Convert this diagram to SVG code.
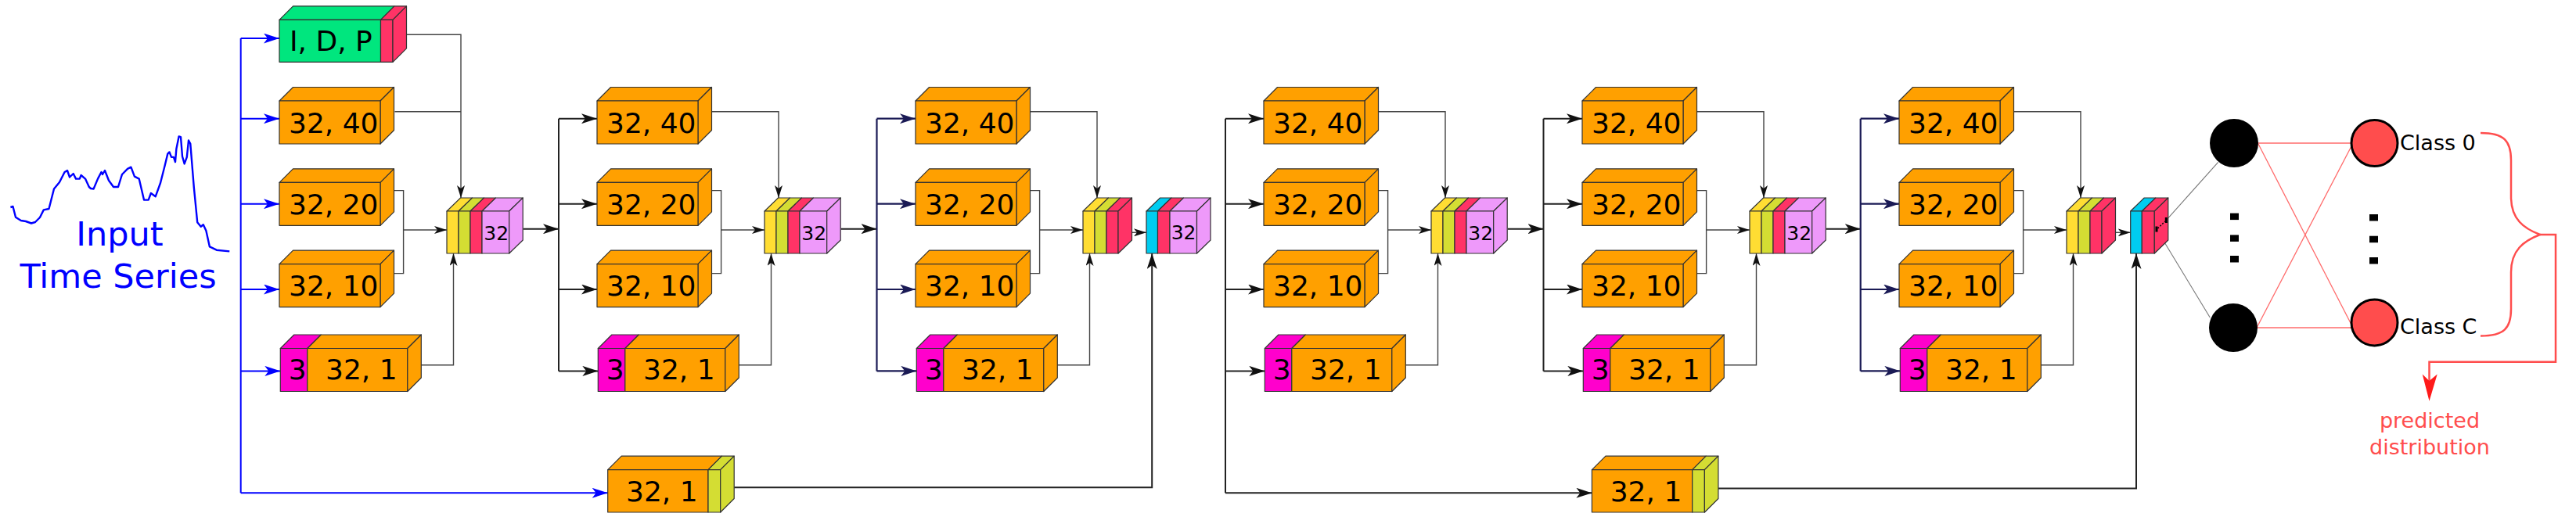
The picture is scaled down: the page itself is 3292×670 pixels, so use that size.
<svg xmlns="http://www.w3.org/2000/svg" width="3292" height="670" viewBox="0 0 3292 670">
<style>
.f polygon,.f rect{stroke:#333;stroke-width:1.2;stroke-linejoin:round}
.or{fill:#ffa000}.gr{fill:#00e67e}.rd{fill:#ff3366}.mg{fill:#ff00cc}
.ye{fill:#ffdd33}.yg{fill:#d4dd33}.pk{fill:#ee99fa}.cy{fill:#00ccf0}
.t{font-family:"DejaVu Sans",sans-serif;font-size:36px;fill:#000}
.ts{font-family:"DejaVu Sans",sans-serif;font-size:25px;fill:#000}
.sp{fill:none;stroke:#222;stroke-width:2}
.nv{fill:none;stroke:#1a1a55;stroke-width:2.2}
.bl{fill:none;stroke:#0000ff;stroke-width:2}
.cn{fill:none;stroke:#444;stroke-width:1.4}
.rl{fill:none;stroke:#ff6b6b;stroke-width:1.3}
.gl{fill:none;stroke:#777;stroke-width:1.1}
.lbl{font-family:"DejaVu Sans",sans-serif;font-size:27px}
</style>
<defs>
<marker id="ab" viewBox="0 0 20 13" refX="20" refY="6.5" markerWidth="20" markerHeight="13" markerUnits="userSpaceOnUse" orient="auto"><path d="M0,0 L20,6.5 L0,13 L5,6.5 z" fill="#111"/></marker>
<marker id="an" viewBox="0 0 20 13" refX="20" refY="6.5" markerWidth="20" markerHeight="13" markerUnits="userSpaceOnUse" orient="auto"><path d="M0,0 L20,6.5 L0,13 L5,6.5 z" fill="#1a1a55"/></marker>
<marker id="abl" viewBox="0 0 20 13" refX="20" refY="6.5" markerWidth="20" markerHeight="13" markerUnits="userSpaceOnUse" orient="auto"><path d="M0,0 L20,6.5 L0,13 L5,6.5 z" fill="#0000ff"/></marker>
<marker id="as" viewBox="0 0 16 10" refX="16" refY="5" markerWidth="16" markerHeight="10" markerUnits="userSpaceOnUse" orient="auto"><path d="M0,0 L16,5 L0,10 L4,5 z" fill="#111"/></marker>
<g id="box" class="f">
<polygon class="or" points="0,0 17.5,-17.5 146.5,-17.5 129,0"/>
<polygon class="or" points="129,0 146.5,-17.5 146.5,37.5 129,55"/>
<rect class="or" width="129" height="55"/>
</g>
<g id="box1" class="f">
<polygon class="mg" points="0,0 17.5,-17.5 52,-17.5 34.5,0"/>
<rect class="mg" width="34.5" height="55"/>
<polygon class="or" points="34.5,0 52,-17.5 180,-17.5 162.5,0"/>
<rect class="or" x="34.5" width="128" height="55"/>
<polygon class="or" points="162.5,0 180,-17.5 180,37.5 162.5,55"/>
</g>
<g id="idpbox" class="f">
<polygon class="gr" points="0,0 17.5,-17.5 147,-17.5 129.5,0"/>
<rect class="gr" width="129.5" height="54"/>
<polygon class="rd" points="129.5,0 147,-17.5 162.5,-17.5 145,0"/>
<rect class="rd" x="129.5" width="15.5" height="54"/>
<polygon class="rd" points="145,0 162.5,-17.5 162.5,36.5 145,54"/>
</g>
<g id="catA" class="f">
<polygon class="ye" points="0,0 17.5,-17 32.5,-17 15,0"/>
<rect class="ye" width="15" height="54"/>
<polygon class="yg" points="15,0 32.5,-17 47.5,-17 30,0"/>
<rect class="yg" x="15" width="15" height="54"/>
<polygon class="rd" points="30,0 47.5,-17 62.5,-17 45,0"/>
<rect class="rd" x="30" width="15" height="54"/>
<polygon class="pk" points="45,0 62.5,-17 97.2,-17 79.7,0"/>
<rect class="pk" x="45" width="34.7" height="54"/>
<polygon class="pk" points="79.7,0 97.2,-17 97.2,37 79.7,54"/>
</g>
<g id="catB" class="f">
<polygon class="ye" points="0,0 17.5,-17 32.5,-17 15,0"/>
<rect class="ye" width="15" height="54"/>
<polygon class="yg" points="15,0 32.5,-17 47.5,-17 30,0"/>
<rect class="yg" x="15" width="15" height="54"/>
<polygon class="rd" points="30,0 47.5,-17 62.5,-17 45,0"/>
<rect class="rd" x="30" width="15" height="54"/>
<polygon class="rd" points="45,0 62.5,-17 62.5,37 45,54"/>
</g>
<g id="resA" class="f">
<polygon class="cy" points="0,0 17.5,-17 32,-17 14.5,0"/>
<rect class="cy" width="14.5" height="54"/>
<polygon class="rd" points="14.5,0 32,-17 47.5,-17 30,0"/>
<rect class="rd" x="14.5" width="15.5" height="54"/>
<polygon class="pk" points="30,0 47.5,-17 82,-17 64.5,0"/>
<rect class="pk" x="30" width="34.5" height="54"/>
<polygon class="pk" points="64.5,0 82,-17 82,37 64.5,54"/>
</g>
<g id="resB" class="f">
<polygon class="cy" points="0,0 17.5,-17 32.1,-17 14.6,0"/>
<rect class="cy" width="14.6" height="54"/>
<polygon class="rd" points="14.6,0 32.1,-17 48.1,-17 30.6,0"/>
<rect class="rd" x="14.6" width="16" height="54"/>
<polygon class="rd" points="30.6,0 48.1,-17 48.1,37 30.6,54"/>
</g>
<g id="short" class="f">
<polygon class="or" points="0,0 17.5,-17.5 145.8,-17.5 128.3,0"/>
<rect class="or" width="128.3" height="54.3"/>
<polygon class="yg" points="128.3,0 145.8,-17.5 161.5,-17.5 144,0"/>
<rect class="yg" x="128.3" width="15.7" height="54.3"/>
<polygon class="yg" points="144,0 161.5,-17.5 161.5,36.8 144,54.3"/>
</g>
</defs>
<rect width="3292" height="670" fill="#fff"/>

<g id="input">
<polyline fill="none" stroke="#0000ff" stroke-width="2.4" stroke-linejoin="round" points="13.4,265 16.5,264 20,277.8 26.8,282 33,283 40,285.5 45,284 51,278 55.8,268.4 62.5,267 69,241.5 76,233 82.6,220 86,218 89,226.5 93.7,222 97,228.6 101.8,228.6 103.6,224 109,228.6 113.8,239 116,241 119.6,241.5 125,228.6 129.5,220 131,223 134,218 139,230.8 145,239 151,239 156,223 163,215.8 167.4,213.7 171.9,225.6 177.7,228.6 184,255.6 189.7,255.6 192.9,247 198.7,251.3 205,234 210.7,211.5 214.3,196.6 216.5,194.4 219,200.9 221.9,200.9 224,207 225.4,190.2 228.6,174.4 231,175.2 233,200 235.7,209.4 238.8,200.9 241,179.5 243.3,183.8 247.8,239.3 252.2,284.2 256.7,289.7 259.8,287.2 263.4,294.9 267.9,315.4 276.8,319.7 293.3,321.4"/>
<text x="153" y="314" text-anchor="middle" font-family="DejaVu Sans, sans-serif" font-size="43" fill="#0000ff">Input</text>
<text x="151" y="368.4" text-anchor="middle" font-family="DejaVu Sans, sans-serif" font-size="43" fill="#0000ff">Time Series</text>
</g>

<g id="connectors">
<!-- input spine -->
<path class="bl" d="M307.7,49.1 V630.3"/>
<path class="bl" d="M307.7,49.1 H357" marker-end="url(#abl)"/>
<path class="bl" d="M307.7,151.7 H357" marker-end="url(#abl)"/>
<path class="bl" d="M307.7,260.7 H357" marker-end="url(#abl)"/>
<path class="bl" d="M307.7,370 H357" marker-end="url(#abl)"/>
<path class="bl" d="M307.7,474.4 H358.3" marker-end="url(#abl)"/>
<path class="bl" d="M307.7,630.3 H776.7" marker-end="url(#abl)"/>
<!-- block 1 -->
<path class="cn" d="M504.3,44.3 H589 V253" marker-end="url(#as)"/>
<path class="cn" d="M504.5,142.7 H589"/>
<path class="cn" d="M503.5,243.6 H515.6 V349.6 H503.5"/>
<path class="cn" d="M515.6,294 H571" marker-end="url(#as)"/>
<path class="cn" d="M525,466.7 H579.5 V324" marker-end="url(#as)"/>
<path class="sp" d="M668.7,292.7 H714" marker-end="url(#ab)"/>
<!-- block 2 -->
<path class="sp" d="M714,151.7 V474.4"/>
<path class="sp" d="M714,151.7 H763" marker-end="url(#ab)"/>
<path class="sp" d="M714,260.7 H763" marker-end="url(#ab)"/>
<path class="sp" d="M714,370 H763" marker-end="url(#ab)"/>
<path class="sp" d="M714,474.4 H764.3" marker-end="url(#ab)"/>
<path class="cn" d="M910,142.7 H995 V253" marker-end="url(#as)"/>
<path class="cn" d="M909.5,243.6 H921.6 V349.6 H909.5"/>
<path class="cn" d="M921.6,294 H977" marker-end="url(#as)"/>
<path class="cn" d="M931,466.7 H985.5 V324" marker-end="url(#as)"/>
<path class="sp" d="M1074.7,292.7 H1120.5" marker-end="url(#ab)"/>
<!-- block 3 -->
<path class="nv" d="M1120.5,151.7 V474.4"/>
<path class="nv" d="M1120.5,151.7 H1170" marker-end="url(#an)"/>
<path class="nv" d="M1120.5,260.7 H1170" marker-end="url(#an)"/>
<path class="nv" d="M1120.5,370 H1170" marker-end="url(#an)"/>
<path class="nv" d="M1120.5,474.4 H1171.3" marker-end="url(#an)"/>
<path class="cn" d="M1317,142.7 H1402 V253" marker-end="url(#as)"/>
<path class="cn" d="M1316.5,243.6 H1328.6 V349.6 H1316.5"/>
<path class="cn" d="M1328.6,294 H1384" marker-end="url(#as)"/>
<path class="cn" d="M1338,466.7 H1392.5 V324" marker-end="url(#as)"/>
<path class="cn" d="M1446,297.3 H1465" marker-end="url(#as)"/>
<path class="sp" d="M938.3,623.3 H1472.2 V324" marker-end="url(#ab)"/>
<!-- block 4 -->
<path class="sp" d="M1566,151.7 V630.3"/>
<path class="sp" d="M1566,151.7 H1615" marker-end="url(#ab)"/>
<path class="sp" d="M1566,260.7 H1615" marker-end="url(#ab)"/>
<path class="sp" d="M1566,370 H1615" marker-end="url(#ab)"/>
<path class="sp" d="M1566,474.4 H1616.3" marker-end="url(#ab)"/>
<path class="sp" d="M1566,630.3 H2034.4" marker-end="url(#ab)"/>
<path class="cn" d="M1762,142.7 H1847 V253" marker-end="url(#as)"/>
<path class="cn" d="M1761.5,243.6 H1773.6 V349.6 H1761.5"/>
<path class="cn" d="M1773.6,294 H1829" marker-end="url(#as)"/>
<path class="cn" d="M1783,466.7 H1837.5 V324" marker-end="url(#as)"/>
<path class="sp" d="M1926.7,292.7 H1972.5" marker-end="url(#ab)"/>
<!-- block 5 -->
<path class="sp" d="M1972.5,151.7 V474.4"/>
<path class="sp" d="M1972.5,151.7 H2022" marker-end="url(#ab)"/>
<path class="sp" d="M1972.5,260.7 H2022" marker-end="url(#ab)"/>
<path class="sp" d="M1972.5,370 H2022" marker-end="url(#ab)"/>
<path class="sp" d="M1972.5,474.4 H2023.3" marker-end="url(#ab)"/>
<path class="cn" d="M2169,142.7 H2254 V253" marker-end="url(#as)"/>
<path class="cn" d="M2168.5,243.6 H2180.6 V349.6 H2168.5"/>
<path class="cn" d="M2180.6,294 H2236" marker-end="url(#as)"/>
<path class="cn" d="M2190,466.7 H2244.5 V324" marker-end="url(#as)"/>
<path class="sp" d="M2333.7,292.7 H2377.7" marker-end="url(#ab)"/>
<!-- block 6 -->
<path class="nv" d="M2377.7,151.7 V474.4"/>
<path class="nv" d="M2377.7,151.7 H2427" marker-end="url(#an)"/>
<path class="nv" d="M2377.7,260.7 H2427" marker-end="url(#an)"/>
<path class="nv" d="M2377.7,370 H2427" marker-end="url(#an)"/>
<path class="nv" d="M2377.7,474.4 H2428.3" marker-end="url(#an)"/>
<path class="cn" d="M2574,142.7 H2659 V253" marker-end="url(#as)"/>
<path class="cn" d="M2573.5,243.6 H2585.6 V349.6 H2573.5"/>
<path class="cn" d="M2585.6,294 H2641" marker-end="url(#as)"/>
<path class="cn" d="M2595,466.7 H2649.5 V324" marker-end="url(#as)"/>
<path class="cn" d="M2703.5,297.3 H2722.7" marker-end="url(#as)"/>
<path class="sp" d="M2196,624.4 H2730 V324" marker-end="url(#ab)"/>
<!-- dense layers -->
<path class="gl" d="M2768.3,281.7 L2834.7,207.3"/>
<path class="gl" d="M2756,293.3 L2824.3,406"/>
<path class="rl" d="M2886,183 H3005"/>
<path class="rl" d="M2886,184 L3006,417"/>
<path class="rl" d="M2884,419 L3006,185"/>
<path class="rl" d="M2884,419 H3006"/>
<path fill="none" stroke="#ff4d4d" stroke-width="2.5" d="M3170,170 C3200,170 3209,180 3209,205 L3209,252 C3209,280 3225,292 3246,300 C3225,308 3209,320 3209,348 L3209,395 C3209,420 3200,429.5 3170,429.5"/>
<path fill="none" stroke="#ff4d4d" stroke-width="2.5" d="M3246,300 H3266 V462.8 H3104.5 V492"/>
<polygon fill="#ff1a1a" points="3104.5,512.8 3095.7,478.6 3104.5,487 3114.7,478.6"/>
</g>

<!-- block 1 nodes -->
<g id="b1_idp"><use href="#idpbox" x="357" y="25.3"/><text class="t" x="370" y="65">I, D, P</text></g>
<g id="b1_40"><use href="#box" x="357" y="129"/><text class="t" x="369" y="169.7">32, 40</text></g>
<g id="b1_20"><use href="#box" x="357" y="233.3"/><text class="t" x="369" y="273.8">32, 20</text></g>
<g id="b1_10"><use href="#box" x="357" y="337.6"/><text class="t" x="369" y="378.1">32, 10</text></g>
<g id="b1_1"><use href="#box1" x="358.3" y="445.5"/><text class="t" x="368.8" y="485">3</text><text class="t" x="416" y="485">32, 1</text></g>
<g id="b1_cat"><use href="#catA" x="571" y="270"/><text class="ts" x="618.3" y="306.5">32</text></g>
<!-- block 2 -->
<g id="b2_40"><use href="#box" x="763" y="129"/><text class="t" x="775" y="169.7">32, 40</text></g>
<g id="b2_20"><use href="#box" x="763" y="233.3"/><text class="t" x="775" y="273.8">32, 20</text></g>
<g id="b2_10"><use href="#box" x="763" y="337.6"/><text class="t" x="775" y="378.1">32, 10</text></g>
<g id="b2_1"><use href="#box1" x="764.3" y="445.5"/><text class="t" x="774.8" y="485">3</text><text class="t" x="822" y="485">32, 1</text></g>
<g id="b2_cat"><use href="#catA" x="977" y="270"/><text class="ts" x="1024.3" y="306.5">32</text></g>
<!-- block 3 -->
<g id="b3_40"><use href="#box" x="1170" y="129"/><text class="t" x="1182" y="169.7">32, 40</text></g>
<g id="b3_20"><use href="#box" x="1170" y="233.3"/><text class="t" x="1182" y="273.8">32, 20</text></g>
<g id="b3_10"><use href="#box" x="1170" y="337.6"/><text class="t" x="1182" y="378.1">32, 10</text></g>
<g id="b3_1"><use href="#box1" x="1171.3" y="445.5"/><text class="t" x="1181.8" y="485">3</text><text class="t" x="1229" y="485">32, 1</text></g>
<g id="b3_cat"><use href="#catB" x="1384" y="270"/></g>
<g id="res1"><use href="#resA" x="1465" y="270"/><text class="ts" x="1496.7" y="306">32</text></g>
<g id="short1"><use href="#short" x="776.7" y="600.7"/><text class="t" x="800" y="640.7">32, 1</text></g>
<!-- block 4 -->
<g id="b4_40"><use href="#box" x="1615" y="129"/><text class="t" x="1627" y="169.7">32, 40</text></g>
<g id="b4_20"><use href="#box" x="1615" y="233.3"/><text class="t" x="1627" y="273.8">32, 20</text></g>
<g id="b4_10"><use href="#box" x="1615" y="337.6"/><text class="t" x="1627" y="378.1">32, 10</text></g>
<g id="b4_1"><use href="#box1" x="1616.3" y="445.5"/><text class="t" x="1626.8" y="485">3</text><text class="t" x="1674" y="485">32, 1</text></g>
<g id="b4_cat"><use href="#catA" x="1829" y="270"/><text class="ts" x="1876.3" y="306.5">32</text></g>
<!-- block 5 -->
<g id="b5_40"><use href="#box" x="2022" y="129"/><text class="t" x="2034" y="169.7">32, 40</text></g>
<g id="b5_20"><use href="#box" x="2022" y="233.3"/><text class="t" x="2034" y="273.8">32, 20</text></g>
<g id="b5_10"><use href="#box" x="2022" y="337.6"/><text class="t" x="2034" y="378.1">32, 10</text></g>
<g id="b5_1"><use href="#box1" x="2023.3" y="445.5"/><text class="t" x="2033.8" y="485">3</text><text class="t" x="2081" y="485">32, 1</text></g>
<g id="b5_cat"><use href="#catA" x="2236" y="270"/><text class="ts" x="2283.3" y="306.5">32</text></g>
<!-- block 6 -->
<g id="b6_40"><use href="#box" x="2427" y="129"/><text class="t" x="2439" y="169.7">32, 40</text></g>
<g id="b6_20"><use href="#box" x="2427" y="233.3"/><text class="t" x="2439" y="273.8">32, 20</text></g>
<g id="b6_10"><use href="#box" x="2427" y="337.6"/><text class="t" x="2439" y="378.1">32, 10</text></g>
<g id="b6_1"><use href="#box1" x="2428.3" y="445.5"/><text class="t" x="2438.8" y="485">3</text><text class="t" x="2486" y="485">32, 1</text></g>
<g id="b6_cat"><use href="#catB" x="2641" y="270"/></g>
<g id="res2"><use href="#resB" x="2722.7" y="270"/>
<rect x="2754.5" y="289.5" width="3" height="7" fill="#000"/><rect x="2766.8" y="278" width="3" height="7" fill="#000"/>
<path d="M2757.5,292 L2766.8,283" stroke="#000" stroke-width="1.5" stroke-dasharray="2,2" fill="none"/></g>
<g id="short2"><use href="#short" x="2034.4" y="600.7"/><text class="t" x="2057.7" y="640.7">32, 1</text></g>
<!-- dense -->
<g id="hidden0"><circle cx="2855" cy="183" r="31" fill="#000"/></g>
<g id="hidden1"><circle cx="2854" cy="419" r="31" fill="#000"/></g>
<g id="hdots" fill="#000"><rect x="2850" y="272.6" width="11" height="8.5"/><rect x="2850" y="300.4" width="11" height="8.5"/><rect x="2850" y="327" width="11" height="8.5"/></g>
<g id="class0"><circle cx="3034.5" cy="183" r="29.5" fill="#ff4d4d" stroke="#000" stroke-width="3"/><text class="lbl" x="3067" y="192.3">Class 0</text></g>
<g id="classC"><circle cx="3034.5" cy="412.4" r="29.5" fill="#ff4d4d" stroke="#000" stroke-width="3"/><text class="lbl" x="3067" y="426.5">Class C</text></g>
<g id="odots" fill="#000"><rect x="3028" y="274" width="11" height="8.5"/><rect x="3028" y="301.7" width="11" height="8.5"/><rect x="3028" y="329" width="11" height="8.5"/></g>
<g id="pred"><text class="lbl" x="3105" y="547" text-anchor="middle" fill="#ff4d4d">predicted</text><text class="lbl" x="3105" y="581" text-anchor="middle" fill="#ff4d4d">distribution</text></g>
</svg>
